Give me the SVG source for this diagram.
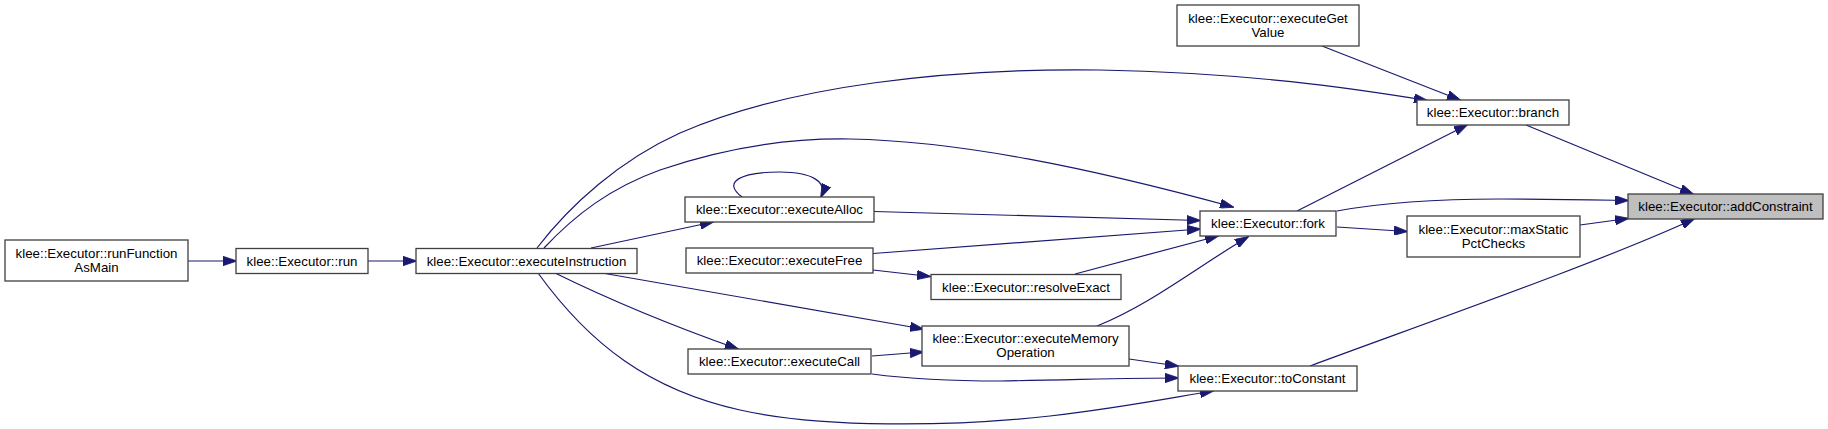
<svg xmlns="http://www.w3.org/2000/svg" width="1828" height="429" viewBox="0 0 1828 429">
<style>
.n rect{fill:#ffffff;stroke:#404040;stroke-width:1.3}
.n.hl rect{fill:#bfbfbf}
.n text{font-family:"Liberation Sans",Arial,Helvetica,sans-serif;font-size:13.3px;fill:#000;text-anchor:middle}
.e path{fill:none;stroke:#191970;stroke-width:1.2;marker-end:url(#ah)}
</style>
<defs>
<marker id="ah" viewBox="0 0 14 9.4" markerWidth="14" markerHeight="9.4" refX="13" refY="4.7" orient="auto" markerUnits="userSpaceOnUse">
<path d="M0,0 L14,4.7 L0,9.4 Z" fill="#191970" stroke="#191970" stroke-width="0.8"/>
</marker>
</defs>
<rect width="1828" height="429" fill="#ffffff"/>
<g id="connectors" class="e">
<path d="M188,261 L236,261"/>
<path d="M368,261 L416,261"/>
<path d="M591,248 L713,222"/>
<path d="M555,273 C610,300 670,325 738,349"/>
<path d="M602,273 L923,329"/>
<path d="M538,273 C590,345 650,390 740,410 C820,428 950,427 1050,416 C1120,408 1170,398 1213,391"/>
<path d="M872,356 L923,352"/>
<path d="M872,374 C910,379 950,381 1000,381 C1070,380 1130,378 1178,378"/>
<path d="M1129,359 L1178,366"/>
<path d="M1097,326 C1150,305 1200,265 1248,237"/>
<path d="M874,211.5 L1200,220.5"/>
<path d="M873,253.5 L1200,229"/>
<path d="M873,270 L930,276.5"/>
<path d="M1075,274 L1218,236"/>
<path d="M544,248 C575,215 610,188 660,170 C730,146 790,138 850,139 C960,141 1090,168 1233,207"/>
<path d="M537,248 C570,205 620,160 680,133 C790,85 950,68 1100,70 C1250,73 1350,88 1427,100.5"/>
<path d="M1322,46 L1460,100"/>
<path d="M1297,211 L1467,125"/>
<path d="M1526,125 L1693,194"/>
<path d="M1337,211 C1380,203 1430,199 1500,199 C1560,199 1600,200 1628,200.5"/>
<path d="M1337,227 L1407,231.5"/>
<path d="M1580,225 L1628,218.5"/>
<path d="M1310,366 C1440,318 1600,262 1694,219"/>
<path d="M742,197 C722,182 740,172 780,172 C812,172 828,182 821,197"/>
</g>
<g id="runFunctionAsMain" class="n"><rect x="5" y="240" width="183" height="41"/><text x="96.5" y="257.5">klee::Executor::runFunction</text><text x="96.5" y="271.5">AsMain</text></g>
<g id="run" class="n"><rect x="236" y="248.5" width="132" height="25"/><text x="302" y="265.5">klee::Executor::run</text></g>
<g id="executeInstruction" class="n"><rect x="416" y="248.5" width="221" height="25"/><text x="526.5" y="265.5">klee::Executor::executeInstruction</text></g>
<g id="executeAlloc" class="n"><rect x="685" y="197" width="189" height="25"/><text x="779.5" y="214">klee::Executor::executeAlloc</text></g>
<g id="executeFree" class="n"><rect x="686" y="248" width="187" height="25"/><text x="779.5" y="265">klee::Executor::executeFree</text></g>
<g id="executeCall" class="n"><rect x="688" y="349" width="183" height="25"/><text x="779.5" y="366">klee::Executor::executeCall</text></g>
<g id="executeMemoryOperation" class="n"><rect x="922" y="326" width="207" height="40"/><text x="1025.5" y="343">klee::Executor::executeMemory</text><text x="1025.5" y="357">Operation</text></g>
<g id="resolveExact" class="n"><rect x="931" y="274.5" width="190" height="25"/><text x="1026" y="291.5">klee::Executor::resolveExact</text></g>
<g id="toConstant" class="n"><rect x="1178" y="366" width="179" height="25"/><text x="1267.5" y="383">klee::Executor::toConstant</text></g>
<g id="fork" class="n"><rect x="1200" y="211" width="136" height="25"/><text x="1268" y="228">klee::Executor::fork</text></g>
<g id="maxStaticPctChecks" class="n"><rect x="1407" y="216" width="173" height="41"/><text x="1493.5" y="234">klee::Executor::maxStatic</text><text x="1493.5" y="248">PctChecks</text></g>
<g id="executeGetValue" class="n"><rect x="1177" y="5" width="182" height="41"/><text x="1268" y="23">klee::Executor::executeGet</text><text x="1268" y="37">Value</text></g>
<g id="branch" class="n"><rect x="1417" y="100" width="152" height="25"/><text x="1493" y="117">klee::Executor::branch</text></g>
<g id="addConstraint" class="n hl"><rect x="1628" y="194" width="195" height="25"/><text x="1725.5" y="211">klee::Executor::addConstraint</text></g>
</svg>
